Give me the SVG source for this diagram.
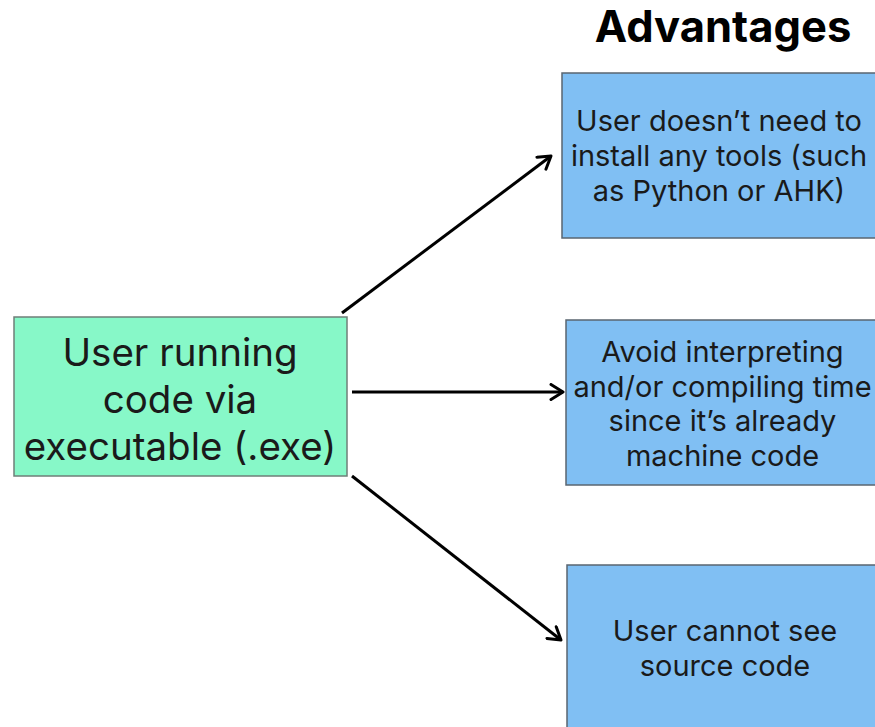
<svg xmlns="http://www.w3.org/2000/svg" width="875" height="727" viewBox="0 0 875 727">
<defs>
<style>
text{font-family:Inter,"Liberation Sans",sans-serif;fill:#1a1a1a;text-anchor:middle}
.src{fill:#87f8c8;stroke:#6f7f78;stroke-width:1.5}
.adv{fill:#80bff3;stroke:#5a6670;stroke-width:1.5}
.big{font-size:38.5px}
.sm{font-size:29px}
.conn{stroke:#000;stroke-width:3;fill:none;marker-end:url(#arr)}
</style>
<marker id="arr" viewBox="0 0 12 12" refX="10" refY="6" markerWidth="6" markerHeight="6" markerUnits="strokeWidth" orient="auto">
<path d="M2,1 L10,6 L2,11" fill="none" stroke="#000" stroke-width="2" stroke-linecap="round" stroke-linejoin="round"/>
</marker>
</defs>
<rect width="875" height="727" fill="#fff"/>
<text x="723" y="42" style="font-size:43.5px;font-weight:bold;fill:#000">Advantages</text>
<g id="source">
<rect class="src" x="14" y="317" width="333" height="159"/>
<text class="big" x="180" y="366">User running</text>
<text class="big" x="180" y="413">code via</text>
<text class="big" x="180" y="460">executable (.exe)</text>
</g>
<g id="adv1">
<rect class="adv" x="562" y="73" width="320" height="165"/>
<text class="sm" x="719" y="131">User doesn’t need to</text>
<text class="sm" x="719" y="166">install any tools (such</text>
<text class="sm" x="719" y="201">as Python or AHK)</text>
</g>
<g id="adv2">
<rect class="adv" x="566" y="320" width="316" height="165"/>
<text class="sm" x="722.5" y="362">Avoid interpreting</text>
<text class="sm" x="722.5" y="397">and/or compiling time</text>
<text class="sm" x="722.5" y="431">since it’s already</text>
<text class="sm" x="722.5" y="466">machine code</text>
</g>
<g id="adv3">
<rect class="adv" x="567" y="565" width="315" height="170"/>
<text class="sm" x="725" y="641">User cannot see</text>
<text class="sm" x="725" y="676">source code</text>
</g>
<g id="connectors">
<line class="conn" x1="342" y1="313" x2="551" y2="156"/>
<line class="conn" x1="352" y1="392" x2="563" y2="392"/>
<line class="conn" x1="352" y1="476" x2="561" y2="640"/>
</g>
</svg>
